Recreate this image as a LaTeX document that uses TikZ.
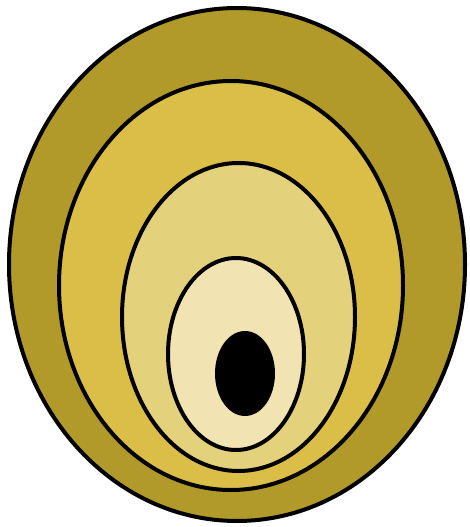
\documentclass[tikz,border=0pt]{standalone}
\begin{document}
\begin{tikzpicture}[x=1pt,y=-1pt,
  ring/.style={draw=black,line width=4pt}]
\definecolor{c1}{HTML}{B19A29}
\definecolor{c2}{HTML}{DBBE48}
\definecolor{c3}{HTML}{E3D17C}
\definecolor{c4}{HTML}{F2E3B3}
\useasboundingbox (0,0) rectangle (469,527);
\path[ring,fill=c1] (237,264.5) ellipse [x radius=228,y radius=256.5];
\path[ring,fill=c2] (231,285.5) ellipse [x radius=172,y radius=204.5];
\path[ring,fill=c3] (238.5,317) ellipse [x radius=116.5,y radius=154];
\path[ring,fill=c4] (236,354) ellipse [x radius=68,y radius=96];
\path[fill=black] (245,373.5) ellipse [x radius=30,y radius=42.5];
\end{tikzpicture}
\end{document}
